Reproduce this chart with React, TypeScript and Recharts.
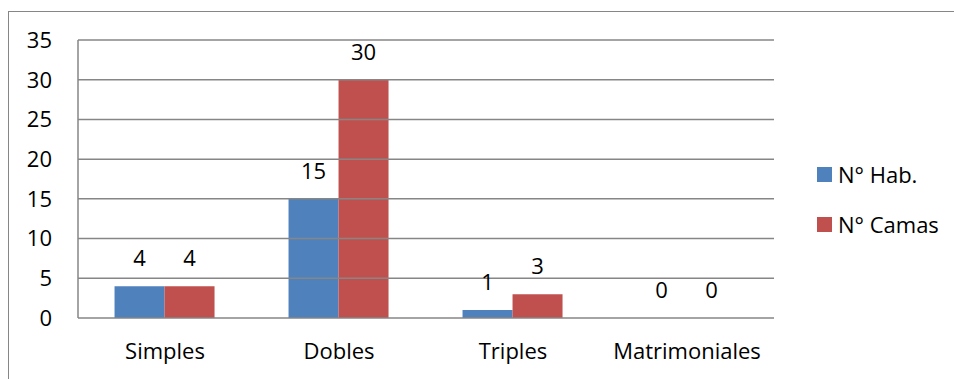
import { BarChart, Bar, XAxis, YAxis, ReferenceLine, LabelList } from "recharts";

// Habitaciones y camas por tipo
const categorias = ["Simples", "Dobles", "Triples", "Matrimoniales"];
const numHabitaciones = [4, 15, 1, 0];
const numCamas = [4, 30, 3, 0];
const ticksY = [0, 5, 10, 15, 20, 25, 30, 35];
const series = [
  { key: "hab", nombre: "N° Hab.", color: "#4F81BD" },
  { key: "camas", nombre: "N° Camas", color: "#C0504D" },
];

const GRIS = "#868686";
const FUENTE = "'Open Sans', sans-serif";
const TAM = 22;

const data = categorias.map((c, i) => ({
  tipo: c,
  hab: numHabitaciones[i],
  camas: numCamas[i],
}));

export default function App() {
  return (
    <div
      style={{
        position: "absolute",
        left: 0,
        top: 0,
        width: 954,
        height: 379,
        overflow: "hidden",
        background: "#fff",
      }}
    >
      <div
        style={{
          position: "absolute",
          left: 8,
          top: 11,
          width: 1000,
          height: 400,
          border: `1px solid ${GRIS}`,
        }}
      />
      <div style={{ position: "absolute", left: 0, top: 0 }}>
        <BarChart
          width={954}
          height={379}
          data={data}
          margin={{ top: 40, right: 180, bottom: 0, left: 8 }}
          barCategoryGap="21%"
          barGap={0}
        >
          {/* líneas de división horizontales */}
          {ticksY
            .filter((v) => v > 0)
            .map((v) => (
              <ReferenceLine key={v} y={v} stroke={GRIS} strokeWidth={1.5} />
            ))}
          <XAxis
            dataKey="tipo"
            height={61}
            tickLine={false}
            tickSize={8}
            tickMargin={17}
            axisLine={{ stroke: GRIS, strokeWidth: 1.5 }}
            tick={{ fill: "#000", fontSize: TAM, fontFamily: FUENTE }}
          />
          <YAxis
            width={70}
            domain={[0, 35]}
            ticks={ticksY}
            interval={0}
            tickLine={false}
            tickSize={8}
            tickMargin={18}
            axisLine={{ stroke: GRIS, strokeWidth: 1.5 }}
            tick={{ fill: "#000", fontSize: TAM, fontFamily: FUENTE }}
          />
          {series.map((s) => (
            <Bar
              key={s.key}
              dataKey={s.key}
              name={s.nombre}
              fill={s.color}
              minPointSize={0.01}
              isAnimationActive={false}
            >
              <LabelList
                dataKey={s.key}
                position="top"
                offset={20}
                fill="#000"
                fontSize={TAM}
                fontFamily={FUENTE}
              />
            </Bar>
          ))}
        </BarChart>
      </div>
      <div
        style={{
          position: "absolute",
          left: 817,
          top: 160,
          fontFamily: FUENTE,
          fontSize: TAM,
          color: "#000",
        }}
      >
        {series.map((s) => (
          <div
            key={s.key}
            style={{ display: "flex", alignItems: "center", height: 28, marginBottom: 22 }}
          >
            <div style={{ width: 15, height: 15, backgroundColor: s.color, marginRight: 6 }} />
            <span>{s.nombre}</span>
          </div>
        ))}
      </div>
    </div>
  );
}
